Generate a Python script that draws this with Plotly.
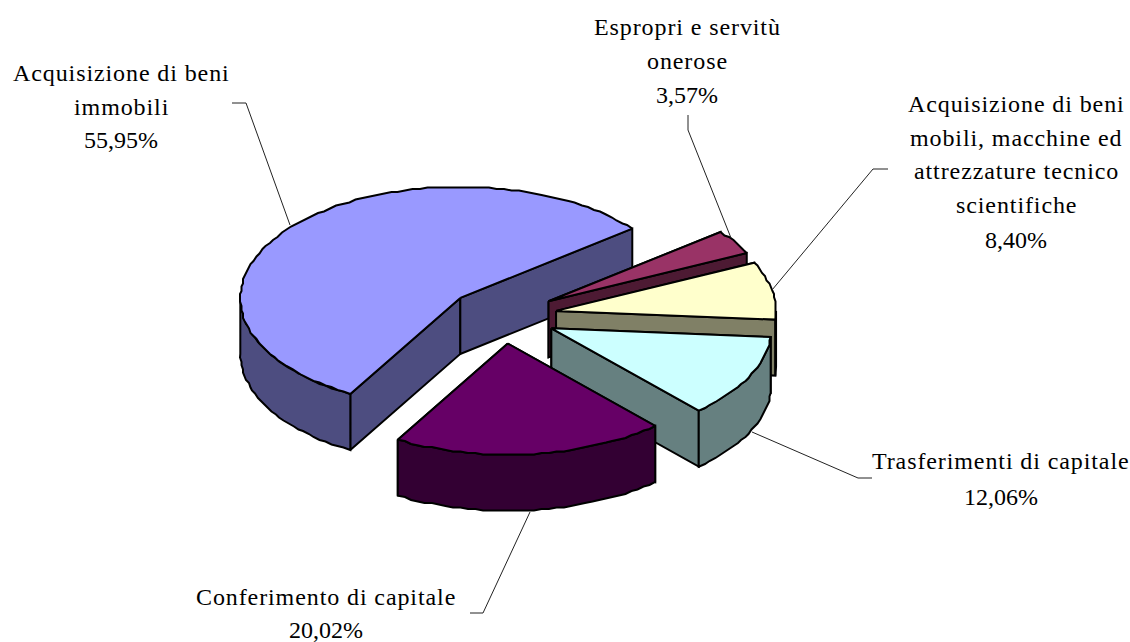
import numpy as np
import plotly.graph_objects as go

# Data
categories = ["Acquisizione di beni immobili", "Espropri e servitù onerose",
              "Acquisizione di beni mobili, macchine ed attrezzature tecnico scientifiche",
              "Trasferimenti di capitale", "Conferimento di capitale"]
shares = [55.95, 3.57, 8.40, 12.06, 20.02]
share_labels = ["55,95%", "3,57%", "8,40%", "12,06%", "20,02%"]
label_lines = [["Acquisizione di beni", "immobili"],
               ["Espropri e servitù", "onerose"],
               ["Acquisizione di beni", "mobili, macchine ed", "attrezzature tecnico", "scientifiche"],
               ["Trasferimenti di capitale"],
               ["Conferimento di capitale"]]
top_colors = ["#9999FF", "#993366", "#FFFFCC", "#CCFFFF", "#660066"]
side_colors = ["#4D4D80", "#4D1A33", "#808066", "#668080", "#330033"]

# Layout of the 3D projection (pixels)
CX, CY, RX, RY, DEPTH, EXPLODE = 502, 316, 220, 111, 56, 0.25
FIRST_START_DEG = 240.0   # the big slice runs clockwise from here, through the top, to 39 deg
LABEL_X = [121, 687, 1016, 1001, 326]
LABEL_Y = [[73, 107, 140], [27, 61, 95], [104, 138, 171, 205, 240], [461, 497], [597, 630]]
LEADERS = [[(232, 103), (246, 103), (290, 225)],
           [(688, 115), (688, 130), (731, 238)],
           [(888, 169), (873, 169), (772, 290)],
           [(872, 478), (858, 478), (752, 432)],
           [(470, 613), (483, 613), (530, 512)]]
LETTER_SPACING = 0.9
RIM_STEP_DEG, RIM_GRID = 2, 1.5   # slightly rough rim, like the edge of the original

fig = go.Figure()


def poly(xs, ys, color, width=2.0):
    fig.add_trace(go.Scatter(x=list(xs) + [xs[0]], y=list(ys) + [ys[0]], mode="lines", fill="toself",
                             fillcolor=color, line=dict(color="black", width=width),
                             hoverinfo="skip", showlegend=False))


def arc(a0, a1, ox, oy):
    n = max(2, int(abs(a1 - a0) / RIM_STEP_DEG) + 2)
    t = np.radians(np.linspace(a0, a1, n))
    x, y = ox + RX * np.cos(t), oy - RY * np.sin(t)
    # snap inner points to a coarse grid; the ends stay exact
    x[1:-1] = np.round(x[1:-1] / RIM_GRID) * RIM_GRID
    y[1:-1] = np.round(y[1:-1] / RIM_GRID) * RIM_GRID
    return x, y


# Angles: clockwise starting from the beginning of the big slice
total = sum(shares)
sweeps = [s / total * 360 for s in shares]
start = FIRST_START_DEG
for i, sw in enumerate(sweeps):
    a_hi = start
    a_lo = start - sw
    start = a_lo
    mid = np.radians((a_hi + a_lo) / 2)
    ox = CX + EXPLODE * RX * np.cos(mid)
    oy = CY - EXPLODE * RY * np.sin(mid)
    for a in (a_hi, a_lo):  # cut faces
        px, py = arc(a, a, ox, oy)
        px, py = px[0], py[0]
        poly([ox, px, px, ox], [oy, py, py + DEPTH, oy + DEPTH], side_colors[i])
    # outer wall: only the front half of the rim
    for base in (-360, 0, 360):
        w_lo = max(a_lo, 180 + base)
        w_hi = min(a_hi, 360 + base)
        if w_hi > w_lo:
            wx, wy = arc(w_lo, w_hi, ox, oy)
            poly(list(wx) + list(wx[::-1]), list(wy) + list(wy[::-1] + DEPTH), side_colors[i])
    # top
    tx, ty = arc(a_lo, a_hi, ox, oy)
    poly([ox] + list(tx), [oy] + list(ty), top_colors[i])

for pts in LEADERS:
    fig.add_trace(go.Scatter(x=[p[0] for p in pts], y=[p[1] for p in pts], mode="lines",
                             line=dict(color="#222222", width=1), hoverinfo="skip", showlegend=False))

for i, lines in enumerate(label_lines):
    for text, y in zip(lines, LABEL_Y[i]):
        fig.add_annotation(x=LABEL_X[i], y=y, text=f'<span style="letter-spacing:{LETTER_SPACING}px">{text}</span>',
                           showarrow=False, xanchor="center", yanchor="middle",
                           font=dict(family="Liberation Serif", size=24, color="black"))
    fig.add_annotation(x=LABEL_X[i], y=LABEL_Y[i][-1], text=share_labels[i], showarrow=False,
                       xanchor="center", yanchor="middle",
                       font=dict(family="Liberation Serif", size=24, color="black"))

fig.update_layout(width=1130, height=642, margin=dict(l=0, r=0, t=0, b=0),
                  paper_bgcolor="white", plot_bgcolor="white", showlegend=False,
                  xaxis=dict(range=[0, 1130], visible=False, fixedrange=True),
                  yaxis=dict(range=[642, 0], visible=False, fixedrange=True))
fig.write_html("out.html", config={"displayModeBar": False},
               post_script="document.body.style.margin='0';document.documentElement.style.overflow='hidden';")
